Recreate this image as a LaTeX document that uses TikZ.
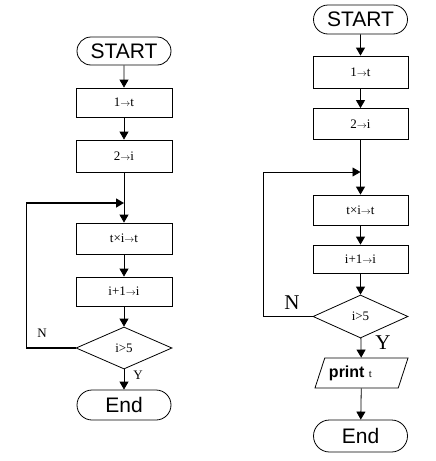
\documentclass[tikz,border=0pt]{standalone}
\usepackage{fontspec}
\setmainfont{Liberation Serif}
\setsansfont{Liberation Sans}
\usetikzlibrary{shapes.geometric, shapes.misc, arrows.meta}
\newcommand{\ra}{{\fontsize{10}{10}\selectfont$\rightarrow$}}

\begin{document}
\begin{tikzpicture}[x=1pt, y=-1pt, line width=0.8pt,
	box/.style={draw, rectangle, minimum width=96pt, minimum height=30pt, inner sep=1pt, font=\fontsize{13}{13}\selectfont},
	term/.style={draw, rounded rectangle, minimum width=96pt, minimum height=30pt, inner sep=1pt, font=\sffamily\fontsize{21}{21}\selectfont},
	dec/.style={draw, diamond, minimum width=96pt, minimum height=42pt, inner sep=0pt, font=\fontsize{13}{13}\selectfont},
	io/.style={draw, trapezium, trapezium left angle=60, trapezium right angle=120, trapezium stretches body, minimum width=93pt, minimum height=30pt, inner sep=1pt},
	arr/.style={-{Triangle[length=8pt, width=9pt]}}]
	\useasboundingbox (0,0) rectangle (436,461);
	% left chart
	\node[term, minimum height=28pt] (startL) at (124,51) {START};
	\node[box, minimum height=29pt] (tL) at (124,102.5) {1\ra t};
	\node[box, minimum height=32pt] (iL) at (124,156) {2\ra i};
	\coordinate (joinL) at (124,203);
	\node[box, minimum height=31pt] (mulL) at (124,238.5) {t×i\ra t};
	\node[box, minimum height=29pt] (incL) at (124,291.5) {i+1\ra i};
	\node[dec] (decL) at (124,348) {i>5};
	\node[term] (endL) at (124,405) {End};
	\node[font=\fontsize{13}{13}\selectfont] (nL) at (42,333) {N};
	\node[font=\fontsize{13}{13}\selectfont] (yL) at (138,375) {Y};
	\draw[arr] (startL) -- (tL);
	\draw[arr] (tL) -- (iL);
	\draw[arr] (iL) -- (mulL);
	\draw[arr] (mulL) -- (incL);
	\draw[arr] (incL) -- (decL);
	\draw[arr] (decL) -- (endL);
	\draw[arr, line width=1.4pt] (decL.west) -- ++(-49,0) |- (joinL);
	% right chart
	\node[term, minimum height=29pt] (startR) at (360.5,19.5) {START};
	\node[box, minimum width=95pt, minimum height=32pt] (tR) at (360.5,72) {1\ra t};
	\node[box, minimum width=95pt, minimum height=31pt] (iR) at (360.5,124) {2\ra i};
	\coordinate (joinR) at (360.5,172);
	\node[box, minimum width=95pt, minimum height=30pt] (mulR) at (360.5,210) {t×i\ra t};
	\node[box, minimum width=95pt, minimum height=28pt] (incR) at (360.5,259) {i+1\ra i};
	\node[dec, minimum width=95pt, minimum height=43pt] (decR) at (360.5,316.5) {i>5};
	\node[io] (prR) at (361.5,373) {\sffamily\bfseries\fontsize{16}{16}\selectfont print \normalfont\fontsize{11}{11}\selectfont t\hspace*{22pt}};
	\node[term, minimum height=32pt] (endR) at (360.5,436) {End};
	\node[font=\fontsize{21}{21}\selectfont] (nR) at (292,303) {N};
	\node[font=\fontsize{21}{21}\selectfont] (yR) at (383,343) {Y};
	\draw[arr] (startR) -- (tR);
	\draw[arr] (tR) -- (iR);
	\draw[arr] (iR) -- (mulR);
	\draw[arr] (mulR) -- (incR);
	\draw[arr] (incR) -- (decR);
	\draw[arr] (decR) -- (prR);
	\draw[arr] (prR) -- (endR);
	\draw[arr] (decR.west) -- ++(-49,0) |- (joinR);
\end{tikzpicture}
\end{document}
